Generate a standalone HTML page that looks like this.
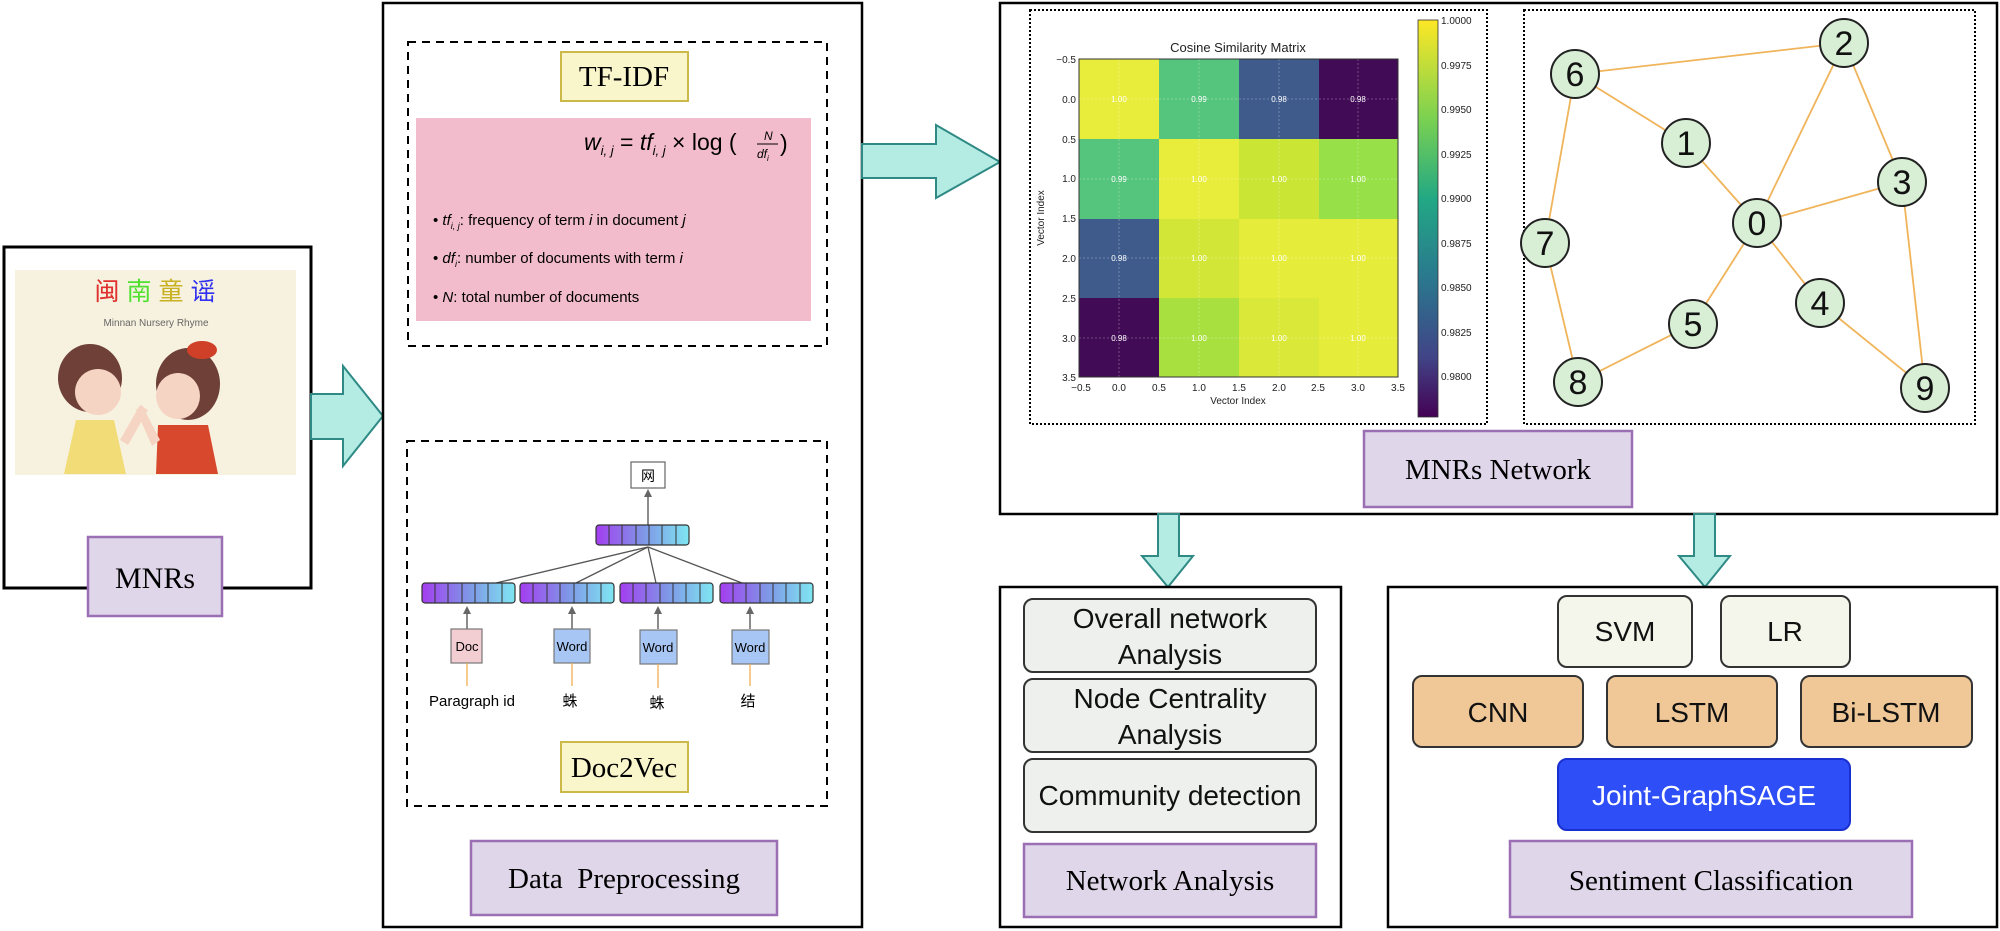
<!DOCTYPE html>
<html><head><meta charset="utf-8"><style>
html,body{margin:0;padding:0;background:#fff;width:2000px;height:931px;overflow:hidden}
svg{display:block}
.serif{font-family:"Liberation Serif","Noto Serif CJK SC",serif}
.sans{font-family:"Liberation Sans","Noto Sans CJK SC",sans-serif}
</style></head><body>
<svg width="2000" height="931" viewBox="0 0 2000 931" xmlns="http://www.w3.org/2000/svg">
<defs>
<linearGradient id="vg" x1="0" x2="1" y1="0" y2="0"><stop offset="0" stop-color="#a43ef0"/><stop offset="0.5" stop-color="#7f95e6"/><stop offset="1" stop-color="#7fe6f2"/></linearGradient>
</defs>

<!-- MNRs box -->
<rect x="4" y="247" width="307" height="341" fill="#fff" stroke="#000" stroke-width="3"/>
<rect x="15" y="270" width="281" height="205" fill="#f7f2df"/>
<text x="155" y="300" text-anchor="middle" class="sans" font-size="25"><tspan fill="#e03030">闽</tspan> <tspan fill="#50e030">南</tspan> <tspan fill="#c8b020">童</tspan> <tspan fill="#3030f0">谣</tspan></text>
<text x="156" y="326" text-anchor="middle" class="sans" font-size="10" fill="#666">Minnan Nursery Rhyme</text>
<!-- girls -->
<ellipse cx="90" cy="378" rx="32" ry="34" fill="#6e4038"/>
<ellipse cx="98" cy="392" rx="23" ry="23" fill="#f6d4c4"/>
<path d="M76 420 L114 420 L126 474 L64 474 Z" fill="#f2dc78"/>
<ellipse cx="188" cy="384" rx="32" ry="36" fill="#6e4038"/>
<ellipse cx="178" cy="396" rx="22" ry="23" fill="#f6d4c4"/>
<ellipse cx="202" cy="350" rx="15" ry="9" fill="#d04028"/>
<path d="M158 425 L208 425 L218 474 L156 474 Z" fill="#d8482c"/>
<path d="M120 440 L140 405 L148 410 L128 445 Z" fill="#f6d4c4"/>
<path d="M160 440 L142 405 L136 410 L152 446 Z" fill="#f6d4c4"/>
<rect x="88" y="537" width="134" height="79" fill="#e0d6ea" stroke="#9a6fb4" stroke-width="2.5"/>
<text x="155" y="588" text-anchor="middle" class="serif" font-size="30">MNRs</text>

<!-- arrow 1 -->
<polygon points="311,394 343,394 343,366 383,416 343,466 343,439 311,439" fill="#b4ece4" stroke="#2f8a86" stroke-width="2"/>

<!-- Data preprocessing -->
<rect x="383" y="3" width="479" height="924" fill="#fff" stroke="#000" stroke-width="2.5"/>
<rect x="408" y="42" width="419" height="304" fill="none" stroke="#000" stroke-width="2" stroke-dasharray="8,6"/>
<rect x="561" y="52" width="127" height="49" fill="#faf6cc" stroke="#cdb84a" stroke-width="2"/>
<text x="624" y="86" text-anchor="middle" class="serif" font-size="29">TF-IDF</text>
<rect x="416" y="118" width="395" height="203" fill="#f2bccc"/>
<text x="584" y="150" class="sans" font-size="23" font-style="italic">w<tspan font-size="13" dy="5">i, j</tspan><tspan dy="-5" font-style="normal"> = </tspan>tf<tspan font-size="13" dy="5">i, j</tspan><tspan dy="-5" font-style="normal"> × log (</tspan></text>
<text x="764" y="140" class="sans" font-size="12" font-style="italic">N</text>
<line x1="757" y1="144" x2="778" y2="144" stroke="#000" stroke-width="1"/>
<text x="757" y="158" class="sans" font-size="12" font-style="italic">df<tspan font-size="8" dy="3">i</tspan></text>
<text x="780" y="151" class="sans" font-size="23">)</text>
<g class="sans" font-size="15">
<text x="433" y="225">• <tspan font-style="italic">tf</tspan><tspan font-size="9" dy="4" font-style="italic">i, j</tspan><tspan dy="-4">: frequency of term </tspan><tspan font-style="italic">i</tspan> in document <tspan font-style="italic">j</tspan></text>
<text x="433" y="263">• <tspan font-style="italic">df</tspan><tspan font-size="9" dy="4" font-style="italic">i</tspan><tspan dy="-4">: number of documents with term </tspan><tspan font-style="italic">i</tspan></text>
<text x="433" y="302">• <tspan font-style="italic">N</tspan>: total number of documents</text>
</g>

<rect x="407" y="441" width="420" height="365" fill="none" stroke="#000" stroke-width="2" stroke-dasharray="8,6"/>
<rect x="631" y="462" width="34" height="26" fill="#fff" stroke="#666" stroke-width="1.2"/>
<text x="648" y="481" text-anchor="middle" class="sans" font-size="14">网</text>
<line x1="648" y1="525" x2="648" y2="493" stroke="#666" stroke-width="1.5"/>
<polygon points="644,497 652,497 648,489" fill="#666"/>
<g stroke="#555" stroke-width="1.3">
<line x1="648" y1="547" x2="496" y2="583"/>
<line x1="648" y1="547" x2="576" y2="583"/>
<line x1="648" y1="547" x2="656" y2="583"/>
<line x1="648" y1="547" x2="742" y2="583"/>
</g>
<g>
<rect x="596" y="525" width="93" height="20" rx="3" fill="url(#vg)" stroke="#333" stroke-width="1.2"/>
<rect x="422" y="583" width="93" height="20" rx="3" fill="url(#vg)" stroke="#333" stroke-width="1.2"/>
<rect x="520" y="583" width="94" height="20" rx="3" fill="url(#vg)" stroke="#333" stroke-width="1.2"/>
<rect x="620" y="583" width="93" height="20" rx="3" fill="url(#vg)" stroke="#333" stroke-width="1.2"/>
<rect x="720" y="583" width="93" height="20" rx="3" fill="url(#vg)" stroke="#333" stroke-width="1.2"/>
</g>
<g stroke="#333" stroke-width="1">
<path d="M609 525v20M622 525v20M636 525v20M649 525v20M662 525v20M676 525v20"/>
<path d="M435 583v20M448 583v20M462 583v20M475 583v20M488 583v20M502 583v20"/>
<path d="M533 583v20M547 583v20M560 583v20M574 583v20M587 583v20M601 583v20"/>
<path d="M633 583v20M646 583v20M660 583v20M673 583v20M686 583v20M700 583v20"/>
<path d="M733 583v20M746 583v20M760 583v20M773 583v20M786 583v20M800 583v20"/>
</g>
<g stroke="#666" stroke-width="1.5">
<line x1="467" y1="629" x2="467" y2="612"/><line x1="572" y1="629" x2="572" y2="612"/><line x1="658" y1="629" x2="658" y2="612"/><line x1="750" y1="629" x2="750" y2="612"/>
</g>
<g fill="#666"><polygon points="463,614 471,614 467,606"/><polygon points="568,614 576,614 572,606"/><polygon points="654,614 662,614 658,606"/><polygon points="746,614 754,614 750,606"/></g>
<rect x="451" y="629" width="31" height="34" fill="#f2cdd2" stroke="#777" stroke-width="1.2"/>
<rect x="554" y="629" width="36" height="34" fill="#a8c6f4" stroke="#777" stroke-width="1.2"/>
<rect x="640" y="630" width="37" height="34" fill="#a8c6f4" stroke="#777" stroke-width="1.2"/>
<rect x="732" y="630" width="37" height="34" fill="#a8c6f4" stroke="#777" stroke-width="1.2"/>
<g class="sans" font-size="13" text-anchor="middle">
<text x="467" y="651">Doc</text><text x="572" y="651">Word</text><text x="658" y="652">Word</text><text x="750" y="652">Word</text>
</g>
<g stroke="#f0b050" stroke-width="1.3"><line x1="467" y1="663" x2="467" y2="686"/><line x1="572" y1="663" x2="572" y2="686"/><line x1="658" y1="664" x2="658" y2="688"/><line x1="750" y1="664" x2="750" y2="686"/></g>
<g class="sans" font-size="15" text-anchor="middle">
<text x="472" y="706">Paragraph id</text><text x="570" y="706">蛛</text><text x="657" y="708">蛛</text><text x="748" y="706">结</text>
</g>
<rect x="561" y="742" width="127" height="50" fill="#faf6cc" stroke="#cdb84a" stroke-width="2"/>
<text x="624" y="777" text-anchor="middle" class="serif" font-size="29">Doc2Vec</text>
<rect x="471" y="841" width="306" height="74" fill="#e0d6ea" stroke="#9a6fb4" stroke-width="2.5"/>
<text x="624" y="888" text-anchor="middle" class="serif" font-size="29">Data&#160; Preprocessing</text>

<!-- arrow 2 -->
<polygon points="862,144 936,144 936,125 1000,162 936,198 936,178 862,178" fill="#b4ece4" stroke="#2f8a86" stroke-width="2"/>

<!-- MNRs network -->
<rect x="1000" y="3" width="997" height="511" fill="#fff" stroke="#000" stroke-width="2.5"/>
<rect x="1030" y="10" width="457" height="414" fill="none" stroke="#000" stroke-width="2" stroke-dasharray="2,2"/>
<rect x="1524" y="10" width="451" height="414" fill="none" stroke="#000" stroke-width="2" stroke-dasharray="2,2"/>
<text x="1238" y="52" text-anchor="middle" class="sans" font-size="13" fill="#222">Cosine Similarity Matrix</text>
<g>
<rect x="1079" y="59" width="80" height="80" fill="#e8ec3a"/><rect x="1159" y="59" width="80" height="80" fill="#55c47c"/><rect x="1239" y="59" width="80" height="80" fill="#3e5b8c"/><rect x="1319" y="59" width="79" height="80" fill="#420b56"/>
<rect x="1079" y="139" width="80" height="80" fill="#55c47c"/><rect x="1159" y="139" width="80" height="80" fill="#e8ec3a"/><rect x="1239" y="139" width="80" height="80" fill="#cbe534"/><rect x="1319" y="139" width="79" height="80" fill="#98e048"/>
<rect x="1079" y="219" width="80" height="79" fill="#3e5b8c"/><rect x="1159" y="219" width="80" height="79" fill="#d2e638"/><rect x="1239" y="219" width="80" height="79" fill="#e6ec3a"/><rect x="1319" y="219" width="79" height="79" fill="#e6ec3a"/>
<rect x="1079" y="298" width="80" height="79" fill="#420b56"/><rect x="1159" y="298" width="80" height="79" fill="#a8e040"/><rect x="1239" y="298" width="80" height="79" fill="#dae83a"/><rect x="1319" y="298" width="79" height="79" fill="#e6ec3a"/>
</g>
<g stroke="#fff" stroke-opacity="0.35" stroke-dasharray="2,2" stroke-width="0.8">
<path d="M1119 59v318M1199 59v318M1279 59v318M1358 59v318M1079 99h319M1079 179h319M1079 258h319M1079 338h319"/>
</g>
<rect x="1079" y="59" width="319" height="318" fill="none" stroke="#333" stroke-width="1"/>
<g class="sans" font-size="8" fill="#fff" text-anchor="middle">
<text x="1119" y="102">1.00</text><text x="1199" y="102">0.99</text><text x="1279" y="102">0.98</text><text x="1358" y="102">0.98</text>
<text x="1119" y="182">0.99</text><text x="1199" y="182">1.00</text><text x="1279" y="182">1.00</text><text x="1358" y="182">1.00</text>
<text x="1119" y="261">0.98</text><text x="1199" y="261">1.00</text><text x="1279" y="261">1.00</text><text x="1358" y="261">1.00</text>
<text x="1119" y="341">0.98</text><text x="1199" y="341">1.00</text><text x="1279" y="341">1.00</text><text x="1358" y="341">1.00</text>
</g>
<g class="sans" font-size="10" fill="#222" text-anchor="end">
<text x="1076" y="63">−0.5</text><text x="1076" y="103">0.0</text><text x="1076" y="143">0.5</text><text x="1076" y="182">1.0</text><text x="1076" y="222">1.5</text><text x="1076" y="262">2.0</text><text x="1076" y="302">2.5</text><text x="1076" y="342">3.0</text><text x="1076" y="381">3.5</text>
</g>
<g class="sans" font-size="10" fill="#222" text-anchor="middle">
<text x="1081" y="391">−0.5</text><text x="1119" y="391">0.0</text><text x="1159" y="391">0.5</text><text x="1199" y="391">1.0</text><text x="1239" y="391">1.5</text><text x="1279" y="391">2.0</text><text x="1318" y="391">2.5</text><text x="1358" y="391">3.0</text><text x="1398" y="391">3.5</text>
<text x="1238" y="404">Vector Index</text>
</g>
<text x="0" y="0" transform="translate(1044,218) rotate(-90)" text-anchor="middle" class="sans" font-size="10" fill="#222">Vector Index</text>
<linearGradient id="cb" x1="0" x2="0" y1="0" y2="1"><stop offset="0" stop-color="#fde725"/><stop offset="0.25" stop-color="#7ad151"/><stop offset="0.45" stop-color="#22a884"/><stop offset="0.65" stop-color="#2a788e"/><stop offset="0.85" stop-color="#414487"/><stop offset="1" stop-color="#440154"/></linearGradient>
<rect x="1418" y="20" width="20" height="397" fill="url(#cb)" stroke="#333" stroke-width="0.8"/>
<g class="sans" font-size="10" fill="#222">
<text x="1441" y="24">1.0000</text><text x="1441" y="69">0.9975</text><text x="1441" y="113">0.9950</text><text x="1441" y="158">0.9925</text><text x="1441" y="202">0.9900</text><text x="1441" y="247">0.9875</text><text x="1441" y="291">0.9850</text><text x="1441" y="336">0.9825</text><text x="1441" y="380">0.9800</text>
</g>
<g stroke="#f0b45a" stroke-width="1.8">
<line x1="1575" y1="74" x2="1844" y2="43"/><line x1="1575" y1="74" x2="1686" y2="143"/><line x1="1686" y1="143" x2="1757" y2="223"/>
<line x1="1757" y1="223" x2="1844" y2="43"/><line x1="1844" y1="43" x2="1902" y2="182"/><line x1="1757" y1="223" x2="1902" y2="182"/>
<line x1="1575" y1="74" x2="1545" y2="243"/><line x1="1545" y1="243" x2="1578" y2="382"/><line x1="1578" y1="382" x2="1693" y2="324"/>
<line x1="1693" y1="324" x2="1757" y2="223"/><line x1="1757" y1="223" x2="1820" y2="303"/><line x1="1820" y1="303" x2="1925" y2="388"/><line x1="1902" y1="182" x2="1925" y2="388"/>
</g>
<g fill="#d8efd6" stroke="#222" stroke-width="2">
<circle cx="1575" cy="74" r="24"/><circle cx="1844" cy="43" r="24"/><circle cx="1686" cy="143" r="24"/><circle cx="1902" cy="182" r="24"/><circle cx="1757" cy="223" r="24"/>
<circle cx="1545" cy="243" r="24"/><circle cx="1820" cy="303" r="24"/><circle cx="1693" cy="324" r="24"/><circle cx="1578" cy="382" r="24"/><circle cx="1925" cy="388" r="24"/>
</g>
<g class="sans" font-size="34" text-anchor="middle" fill="#111">
<text x="1575" y="86">6</text><text x="1844" y="55">2</text><text x="1686" y="155">1</text><text x="1902" y="194">3</text><text x="1757" y="235">0</text>
<text x="1545" y="255">7</text><text x="1820" y="315">4</text><text x="1693" y="336">5</text><text x="1578" y="394">8</text><text x="1925" y="400">9</text>
</g>
<rect x="1364" y="431" width="268" height="76" fill="#e0d6ea" stroke="#9a6fb4" stroke-width="2.5"/>
<text x="1498" y="479" text-anchor="middle" class="serif" font-size="29">MNRs Network</text>

<polygon points="1158,514 1179,514 1179,556 1193,556 1168,587 1142,556 1158,556" fill="#b4ece4" stroke="#2f8a86" stroke-width="2"/>
<polygon points="1694,514 1715,514 1715,556 1730,556 1705,587 1679,556 1694,556" fill="#b4ece4" stroke="#2f8a86" stroke-width="2"/>

<rect x="1000" y="587" width="341" height="340" fill="#fff" stroke="#000" stroke-width="2.5"/>
<g fill="#eef0ee" stroke="#333" stroke-width="2">
<rect x="1024" y="599" width="292" height="73" rx="9"/><rect x="1024" y="679" width="292" height="73" rx="9"/><rect x="1024" y="759" width="292" height="73" rx="9"/>
</g>
<g class="sans" font-size="28" text-anchor="middle" fill="#111">
<text x="1170" y="628">Overall network</text><text x="1170" y="664">Analysis</text>
<text x="1170" y="708">Node Centrality</text><text x="1170" y="744">Analysis</text>
<text x="1170" y="805">Community detection</text>
</g>
<rect x="1024" y="844" width="292" height="73" fill="#e0d6ea" stroke="#9a6fb4" stroke-width="2.5"/>
<text x="1170" y="890" text-anchor="middle" class="serif" font-size="29">Network Analysis</text>

<rect x="1388" y="587" width="609" height="340" fill="#fff" stroke="#000" stroke-width="2.5"/>
<g stroke="#333" stroke-width="2">
<rect x="1558" y="596" width="134" height="71" rx="9" fill="#f4f6ec"/><rect x="1721" y="596" width="129" height="71" rx="9" fill="#f4f6ec"/>
<rect x="1413" y="676" width="170" height="71" rx="9" fill="#f0c898"/><rect x="1607" y="676" width="170" height="71" rx="9" fill="#f0c898"/><rect x="1801" y="676" width="171" height="71" rx="9" fill="#f0c898"/>
<rect x="1558" y="759" width="292" height="71" rx="9" fill="#2e4ff8" stroke="#1a2fd0"/>
</g>
<g class="sans" font-size="28" text-anchor="middle" fill="#111">
<text x="1625" y="641">SVM</text><text x="1785" y="641">LR</text>
<text x="1498" y="722">CNN</text><text x="1692" y="722">LSTM</text><text x="1886" y="722">Bi-LSTM</text>
<text x="1704" y="805" fill="#fff">Joint-GraphSAGE</text>
</g>
<rect x="1510" y="841" width="402" height="76" fill="#e0d6ea" stroke="#9a6fb4" stroke-width="2.5"/>
<text x="1711" y="890" text-anchor="middle" class="serif" font-size="29">Sentiment Classification</text>
</svg>
</body></html>
